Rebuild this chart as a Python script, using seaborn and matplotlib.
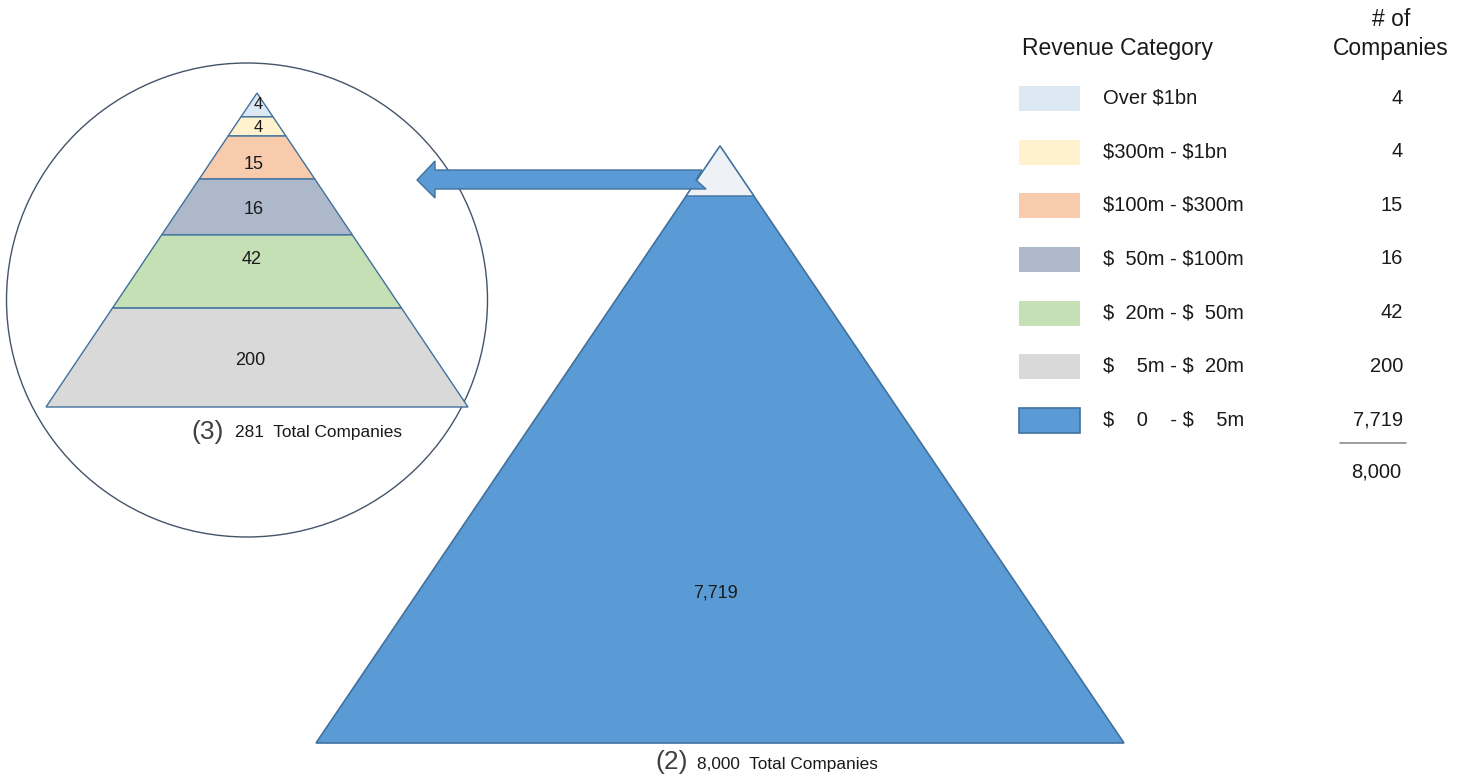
import numpy as np
import matplotlib
matplotlib.use("Agg")
import matplotlib.pyplot as plt
import seaborn as sns
from matplotlib.patches import Polygon, Ellipse, Rectangle

# revenue bands, top of the pyramid first
categories = ["Over $1bn", "$300m - $1bn", "$100m - $300m", "$  50m - $100m",
              "$  20m - $  50m", "$    5m - $  20m", "$    0    - $    5m"]
counts = [4, 4, 15, 16, 42, 200, 7719]
band_colors = ["#dde8f5", "#fff2cc", "#f8cbad", "#adb9ca", "#c5e0b4", "#d9d9d9", "#5b9bd5"]

sns.set_theme(style="white")
plt.rcParams['font.family'] = ['Liberation Sans', 'DejaVu Sans']

edge = "#41719c"
txt = "#1a1a1a"

fig = plt.figure(figsize=(14.69, 7.81), dpi=100)
ax = fig.add_axes([0, 0, 1, 1])
ax.set_xlim(0, 1469)
ax.set_ylim(781, 0)
ax.axis("off")

total = sum(counts)
small_total = sum(counts[:-1])


def tri_x(apex, base_y, half_w, y):
    # half width of the triangle at height y
    return half_w * (y - apex[1]) / (base_y - apex[1])


def label(x, y, s, **kw):
    ax.text(x, y, s, parse_math=False, **kw)


# ---- zoomed circle with the small pyramid
ax.add_patch(Ellipse((247, 300), 481, 474, fill=False, ec="#44546a", lw=1.0))
apex_s = (257, 93)
base_s = 407
half_s = 211
# where each band ends, as a share of the pyramid height (layout only)
band_ends = [0.076, 0.137, 0.274, 0.452, 0.685, 1.0]
# where the number sits inside its band
label_pos = [0.5, 0.58, 0.67, 0.55, 0.34, 0.53]
label_x = [258, 258, 254, 254, 252, 250]
y0 = apex_s[1]
for i, frac in enumerate(band_ends):
    y1 = apex_s[1] + frac * (base_s - apex_s[1])
    w0 = tri_x(apex_s, base_s, half_s, y0)
    w1 = tri_x(apex_s, base_s, half_s, y1)
    ax.add_patch(Polygon([(apex_s[0] - w0, y0), (apex_s[0] + w0, y0),
                          (apex_s[0] + w1, y1), (apex_s[0] - w1, y1)],
                         closed=True, fc=band_colors[i], ec=edge, lw=1.0))
    ym = y0 + label_pos[i] * (y1 - y0)
    label(label_x[i], ym, f"{counts[i]:,}", ha="center", va="center",
          fontsize=13 if i >= 2 else 12, color=txt)
    y0 = y1

label(224, 432, "(3)", ha="right", va="center", fontsize=19, color="#404040")
label(235, 433, f"{small_total}  Total Companies", ha="left", va="center", fontsize=12.4, color=txt)

# ---- big pyramid
apex_b = (720, 146)
base_b = 743
half_b = 404
cap_y = 196
wc = tri_x(apex_b, base_b, half_b, cap_y)
ax.add_patch(Polygon([(apex_b[0] - half_b, base_b), (apex_b[0] + half_b, base_b), apex_b],
                     closed=True, fc=band_colors[-1], ec=edge, lw=1.2))
ax.add_patch(Polygon([apex_b, (apex_b[0] + wc, cap_y), (apex_b[0] - wc, cap_y)],
                     closed=True, fc="#eef1f5", ec=edge, lw=1.0))
label(716, 593, f"{counts[-1]:,}", ha="center", va="center", fontsize=13, color=txt)
label(688, 762, "(2)", ha="right", va="center", fontsize=19, color="#404040")
label(697, 765, f"{total:,}  Total Companies", ha="left", va="center", fontsize=12.4, color=txt)

# ---- arrow from the cap to the circle
arrow = [(417, 180), (435, 161), (435, 170), (702, 170), (696, 180),
         (706, 189), (435, 189), (435, 198)]
ax.add_patch(Polygon(arrow, closed=True, fc=band_colors[-1], ec=edge, lw=1.0))

# ---- legend table
label(1022, 48, "Revenue Category", ha="left", va="center", fontsize=16.5, color=txt)
label(1391, 20, "# of", ha="center", va="center", fontsize=16.5, color=txt)
label(1391, 48, "Companies", ha="center", va="center", fontsize=16.5, color=txt)
row_y = np.linspace(98, 420, len(categories))
for i, (cat, n) in enumerate(zip(categories, counts)):
    is_last = i == len(categories) - 1
    ax.add_patch(Rectangle((1019, row_y[i] - 12), 61, 25, fc=band_colors[i],
                           ec=edge if is_last else "none", lw=1.2))
    label(1103, row_y[i], cat, ha="left", va="center", fontsize=14.5, color=txt)
    label(1403, row_y[i], f"{n:,}", ha="right", va="center", fontsize=14.5, color=txt)
ax.plot([1340, 1406], [443, 443], color="#8c8c8c", lw=1.2)
label(1401, 472, f"{total:,}", ha="right", va="center", fontsize=14.5, color=txt)

fig.savefig("out.png", dpi=100)
